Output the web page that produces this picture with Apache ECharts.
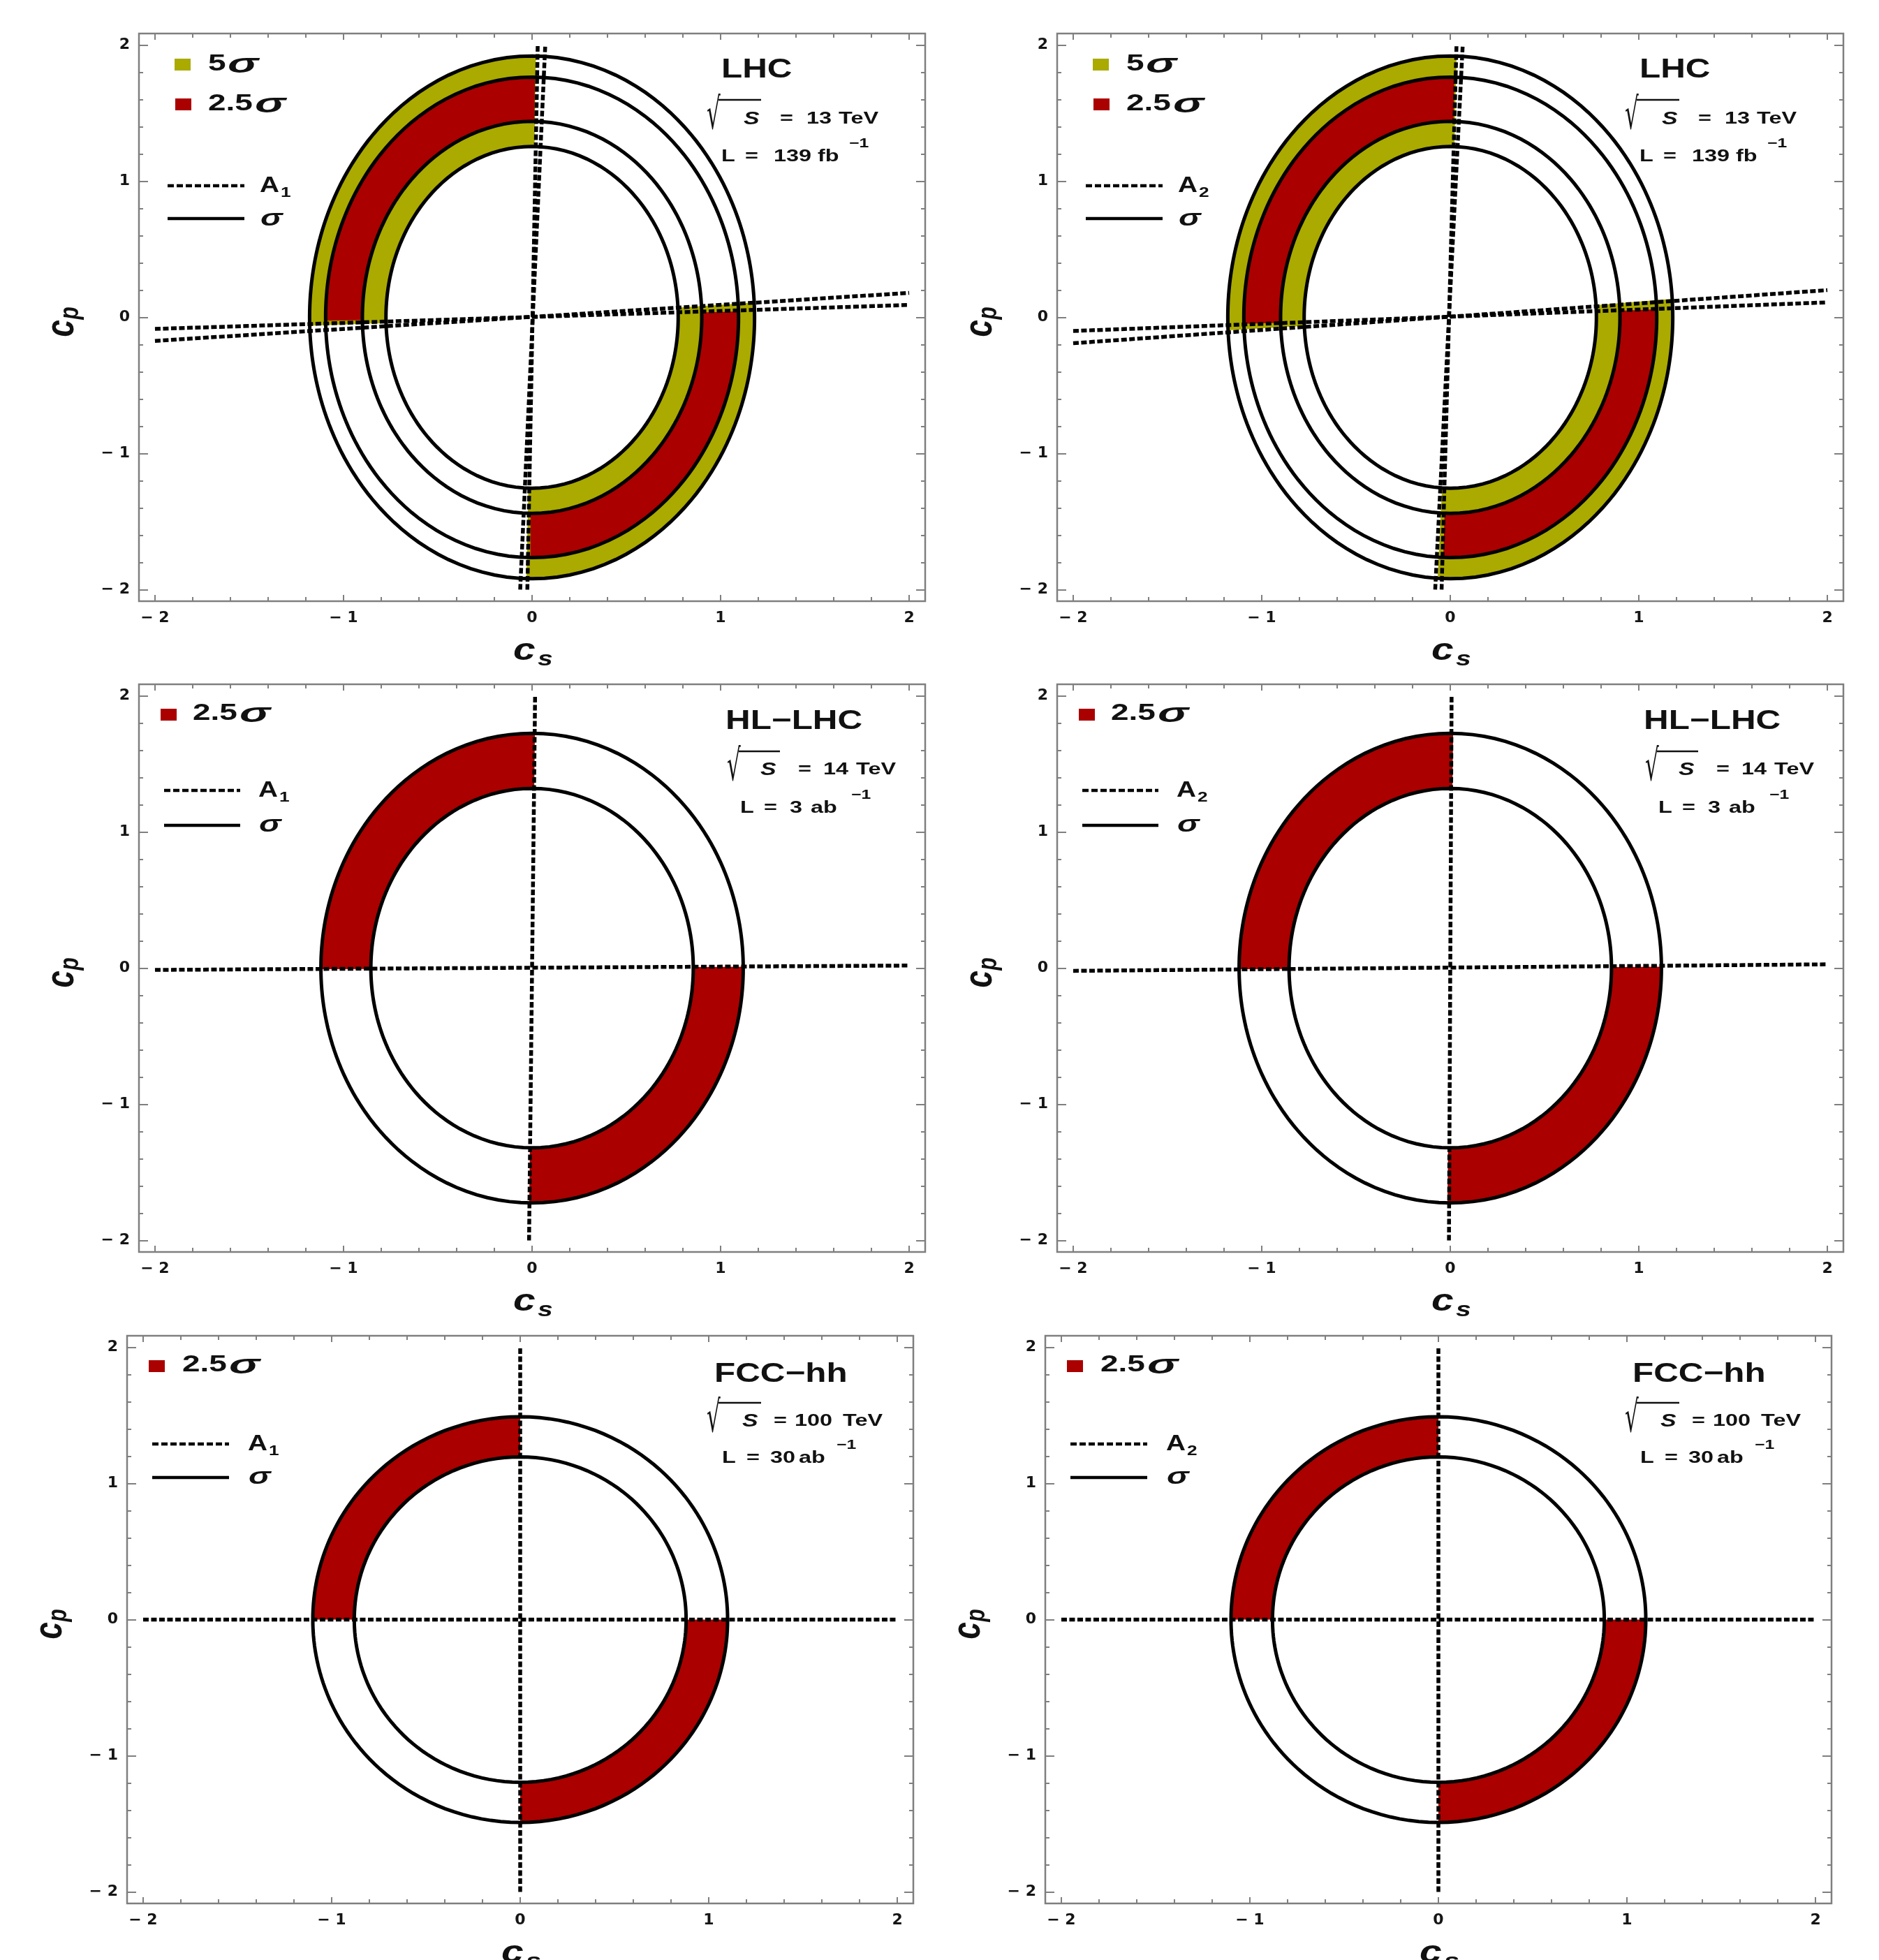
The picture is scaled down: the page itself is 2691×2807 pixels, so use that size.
<!DOCTYPE html>
<html>
<head>
<meta charset="utf-8">
<script src="https://cdn.jsdelivr.net/npm/echarts@6/dist/echarts.min.js"></script>
<style>
  html, body { margin: 0; padding: 0; background: #fff; }
  #chart { width: 2691px; height: 2807px; }
</style>
</head>
<body>
<div id="chart"></div>
<script>
// ---- tick values ----
const majorTicks = [-2, -1, 0, 1, 2];
const minorTicks = [-1.8, -1.6, -1.4, -1.2, -0.8, -0.6, -0.4, -0.2, 0.2, 0.4, 0.6, 0.8, 1.2, 1.4, 1.6, 1.8];

// ---- sigma contours: semi-axes [c_s, c_p] ----
const lhcRings = [[1.18, 1.92], [1.095, 1.765], [0.90, 1.44], [0.775, 1.255]];
const hlRings = [[1.12, 1.725], [0.855, 1.32]];
const fccRings = [[1.10, 1.49], [0.88, 1.195]];

// ---- A1 / A2 lines: [[c_s, c_p], [c_s, c_p]] ----
const lhcA1Lines = [[[-0.063, -2], [0.07, 2]], [[-0.025, -2], [0.03, 2]], [[-2, -0.173], [2, 0.18]], [[-2, -0.085], [2, 0.091]]];
const lhcA2Lines = [[[-0.08, -2], [0.066, 2]], [[-0.046, -2], [0.033, 2]], [[-2, -0.19], [2, 0.2]], [[-2, -0.10], [2, 0.11]]];
const hlA1Lines = [[[-0.016, -2], [0.016, 2]], [[-2, -0.013], [2, 0.019]]];
const hlA2Lines = [[[-0.007, -2], [0.007, 2]], [[-2, -0.02], [2, 0.028]]];
const fccA1Lines = [[[0, -2], [0, 2]], [[-2, 0], [2, 0]]];
const fccA2Lines = [[[0, -2], [0, 2]], [[-2, 0], [2, 0]]];

// ---- shaded sectors [from, to] (degrees) ----
const lhcA1Sectors5 = [[89.4, 183.0], [269.1, 365.3]];
const lhcA1Sectors25 = [[89.5, 181.3], [269.7, 362.3]];
const lhcA2Sectors5 = [[89.0, 184.6], [268.0, 366.6]];
const lhcA2Sectors25 = [[89.3, 182.5], [268.8, 363.1]];
const hlSectors = [[89.5, 180.4], [269.5, 360.5]];
const fccSectors = [[90, 180], [270, 360]];

// ---- texts ----
const colliders = ['LHC', 'HL\u2212LHC', 'FCC\u2212hh'];
const energies = ['13', '14', '100'];
const lumis = ['139', '3', '30'];
const lumiUnits = ['fb', 'ab', 'ab'];

const YELLOW = '#aaaa00', RED = '#aa0000', FRAME = '#7f7f7f', INK = '#111';
const SANS = '"Liberation Sans", Arial, sans-serif';
const LIM = 2.085, W = 1126, H = 813;

const panels = [
  { box: [199, 48], row: 0, a: '1', rings: lhcRings, lines: lhcA1Lines,
    bands: [{ name: '5σ', color: YELLOW, outer: 0, inner: 3, sectors: lhcA1Sectors5 },
            { name: '2.5σ', color: RED, outer: 1, inner: 2, sectors: lhcA1Sectors25 }] },
  { box: [1514, 48], row: 0, a: '2', rings: lhcRings, lines: lhcA2Lines,
    bands: [{ name: '5σ', color: YELLOW, outer: 0, inner: 3, sectors: lhcA2Sectors5 },
            { name: '2.5σ', color: RED, outer: 1, inner: 2, sectors: lhcA2Sectors25 }] },
  { box: [199, 980], row: 1, a: '1', rings: hlRings, lines: hlA1Lines,
    bands: [{ name: '2.5σ', color: RED, outer: 0, inner: 1, sectors: hlSectors }] },
  { box: [1514, 980], row: 1, a: '2', rings: hlRings, lines: hlA2Lines,
    bands: [{ name: '2.5σ', color: RED, outer: 0, inner: 1, sectors: hlSectors }] },
  { box: [182, 1913], row: 2, a: '1', rings: fccRings, lines: fccA1Lines,
    bands: [{ name: '2.5σ', color: RED, outer: 0, inner: 1, sectors: fccSectors }] },
  { box: [1497, 1913], row: 2, a: '2', rings: fccRings, lines: fccA2Lines,
    bands: [{ name: '2.5σ', color: RED, outer: 0, inner: 1, sectors: fccSectors }] }
];

// per-row placement of the annotation block and legend (px, relative to frame)
const rowText = [
  { title: [834, 53], rad: [813, 95, 891], S: [866, 123], eq: [918, 122], en: [956, 122], tev: [1002, 122],
    L: [834, 176], Leq: [868, 176], lumi: [909, 176], unit: [972, 176], sup: [1017, 158] },
  { title: [840, 54], rad: [842, 96, 918], S: [890, 123], eq: [944, 122], en: [980, 122], tev: [1027, 122],
    L: [861, 177], Leq: [895, 177], lumi: [932, 177], unit: [962, 177], sup: [1020, 159] },
  { title: [841, 56], rad: [830, 96, 908], S: [881, 123], eq: [926, 122], en: [956, 122], tev: [1025, 122],
    L: [852, 175], Leq: [887, 175], lumi: [921, 175], unit: [962, 175], sup: [1016, 157] }
];
const rowLegend = [
  { sq: [[51, 36], [52, 93]], txt: [[99, 44], [99, 101]], dash: [41, 151, 218], A: [173, 218], solid: [41, 151, 265], sig: [174, 266] },
  { sq: [[31, 35]], txt: [[77, 42]], dash: [36, 145, 152], A: [171, 152], solid: [36, 145, 202], sig: [172, 202] },
  { sq: [[31, 35]], txt: [[79, 42]], dash: [36, 146, 155], A: [173, 155], solid: [36, 146, 203], sig: [174, 203] }
];

function ringPoint(r, deg) {
  const t = deg * Math.PI / 180, c = Math.cos(t), s = Math.sin(t);
  const rho = r[0] * r[1] / Math.sqrt(Math.pow(r[1] * c, 2) + Math.pow(r[0] * s, 2));
  return [rho * c, rho * s];
}

function sectorRender(outer, inner, color) {
  return function (params, api) {
    const a0 = api.value(0), a1 = api.value(1);
    const pts = [];
    for (let k = 0; k <= 90; k++) pts.push(api.coord(ringPoint(outer, a0 + (a1 - a0) * k / 90)));
    for (let k = 90; k >= 0; k--) pts.push(api.coord(ringPoint(inner, a0 + (a1 - a0) * k / 90)));
    return { type: 'polygon', shape: { points: pts }, style: { fill: color, stroke: null } };
  };
}

function ringRender(params, api) {
  const r = [api.value(0), api.value(1)];
  const pts = [];
  for (let k = 0; k <= 360; k += 2) pts.push(api.coord(ringPoint(r, k)));
  return { type: 'polyline', shape: { points: pts }, style: { stroke: '#000', lineWidth: 5, fill: null } };
}

function tickText(v) {
  return v < 0 ? '\u2212 ' + (-v) : String(v);
}

function tickAxis(gridIndex, position, values, len, withLabels) {
  return {
    type: 'value', gridIndex: gridIndex, position: position, min: -LIM, max: LIM,
    axisLine: { show: false, onZero: false },
    axisTick: { show: true, inside: true, length: len, customValues: values, lineStyle: { color: FRAME, width: 2 } },
    minorTick: { show: false },
    splitLine: { show: false },
    axisLabel: withLabels ? {
      show: true, customValues: majorTicks, formatter: tickText, margin: 13,
      color: '#151515', fontFamily: '"DejaVu Sans"', fontWeight: 'bold', fontSize: 22
    } : { show: false }
  };
}

function text(x, y, s, size, o) {
  o = o || {};
  const font = (o.italic ? 'italic ' : '') + (o.weight || 'bold') + ' ' + size + 'px ' + (o.family || SANS);
  return {
    type: 'text', x: x, y: y, scaleX: o.sx == null ? 1.35 : o.sx, scaleY: o.sy == null ? 1 : o.sy, z: 20, silent: true,
    style: { text: s, fill: INK, font: font, align: o.align || 'left', verticalAlign: o.va || 'middle',
             textAlign: o.align || 'left', textVerticalAlign: o.va || 'middle' }
  };
}

const grids = [], xAxes = [], yAxes = [], series = [], graphics = [];

panels.forEach(function (p, i) {
  const gx = p.box[0], gy = p.box[1];
  grids.push({ left: gx, top: gy, width: W, height: H, show: true, borderColor: FRAME, borderWidth: 2.5, backgroundColor: 'transparent' });
  const xi = xAxes.length, yi = yAxes.length;
  xAxes.push(tickAxis(i, 'bottom', majorTicks, 9, true));
  xAxes.push(tickAxis(i, 'bottom', minorTicks, 6, false));
  xAxes.push(tickAxis(i, 'top', majorTicks, 9, false));
  xAxes.push(tickAxis(i, 'top', minorTicks, 6, false));
  yAxes.push(tickAxis(i, 'left', majorTicks, 13, true));
  yAxes.push(tickAxis(i, 'left', minorTicks, 6, false));
  yAxes.push(tickAxis(i, 'right', majorTicks, 13, false));
  yAxes.push(tickAxis(i, 'right', minorTicks, 6, false));

  p.bands.forEach(function (b) {
    series.push({
      type: 'custom', name: b.name, xAxisIndex: xi, yAxisIndex: yi, z: 1, silent: true,
      data: b.sectors, renderItem: sectorRender(p.rings[b.outer], p.rings[b.inner], b.color)
    });
  });
  series.push({ type: 'custom', name: 'σ', xAxisIndex: xi, yAxisIndex: yi, z: 2, silent: true, data: p.rings, renderItem: ringRender });
  p.lines.forEach(function (l) {
    series.push({
      type: 'line', name: 'A' + p.a, xAxisIndex: xi, yAxisIndex: yi, z: 3, silent: true,
      showSymbol: false, data: l, lineStyle: { color: '#000', width: 5.5, type: [8, 3.5] }
    });
  });

  // collider annotation
  const t = rowText[p.row];
  graphics.push(text(gx + t.title[0], gy + t.title[1], colliders[p.row], 38, { sx: 1.3 }));
  graphics.push(text(gx + t.rad[0], gy + t.rad[1] - 6, '\u221a', 62, { weight: 'normal', family: '"DejaVu Sans"', va: 'top', sx: 0.5 }));
  graphics.push({ type: 'line', z: 20, silent: true, shape: { x1: gx + t.rad[0] + 17, y1: gy + t.rad[1], x2: gx + t.rad[2], y2: gy + t.rad[1] }, style: { stroke: INK, lineWidth: 2.5 } });
  graphics.push(text(gx + t.S[0], gy + t.S[1], 'S', 26, { italic: true, sx: 1.3 }));
  graphics.push(text(gx + t.eq[0], gy + t.eq[1], '=', 24));
  graphics.push(text(gx + t.en[0], gy + t.en[1], energies[p.row], 24));
  graphics.push(text(gx + t.tev[0], gy + t.tev[1], 'TeV', 24));
  graphics.push(text(gx + t.L[0], gy + t.L[1], 'L', 24));
  graphics.push(text(gx + t.Leq[0], gy + t.Leq[1], '=', 24));
  graphics.push(text(gx + t.lumi[0], gy + t.lumi[1], lumis[p.row], 24));
  graphics.push(text(gx + t.unit[0], gy + t.unit[1], lumiUnits[p.row], 24));
  graphics.push(text(gx + t.sup[0], gy + t.sup[1], '\u22121', 19, { sx: 1.3 }));

  // legend
  const lg = rowLegend[p.row];
  p.bands.forEach(function (b, k) {
    graphics.push({ type: 'rect', z: 20, silent: true, shape: { x: gx + lg.sq[k][0], y: gy + lg.sq[k][1], width: 23, height: 17 }, style: { fill: b.color } });
    const num = b.name.replace('σ', '');
    const numW = num === '5' ? 26 : 65;
    graphics.push(text(gx + lg.txt[k][0], gy + lg.txt[k][1], num, 34, { sx: 1.35 }));
    graphics.push(text(gx + lg.txt[k][0] + numW + 2, gy + lg.txt[k][1] + 2, 'σ', 38, { italic: true, sx: 1.75 }));
  });
  graphics.push({ type: 'line', z: 20, silent: true, shape: { x1: gx + lg.dash[0], y1: gy + lg.dash[2], x2: gx + lg.dash[1], y2: gy + lg.dash[2] }, style: { stroke: '#000', lineWidth: 4.5, lineDash: [9, 4] } });
  graphics.push({ type: 'line', z: 20, silent: true, shape: { x1: gx + lg.solid[0], y1: gy + lg.solid[2], x2: gx + lg.solid[1], y2: gy + lg.solid[2] }, style: { stroke: '#000', lineWidth: 4.5 } });
  graphics.push(text(gx + lg.A[0], gy + lg.A[1], 'A', 31, { sx: 1.25 }));
  graphics.push(text(gx + lg.A[0] + 30, gy + lg.A[1] + 10, p.a, 21, { sx: 1.25 }));
  graphics.push(text(gx + lg.sig[0], gy + lg.sig[1], 'σ', 34, { italic: true, sx: 1.4 }));

  // axis names
  const cx = gx + W / 2;
  graphics.push(text(cx - 27, gy + H + 72, 'c', 44, { italic: true, sx: 1.3 }));
  graphics.push(text(cx + 8, gy + H + 84, 's', 30, { italic: true, sx: 1.3 }));
  graphics.push({
    type: 'group', x: gx - 110, y: gy + H / 2 + 28, rotation: Math.PI / 2, z: 20, silent: true,
    children: [
      text(0, 0, 'c', 44, { italic: true, sx: 1, sy: 1.3 }),
      text(25, 12, 'p', 30, { italic: true, sx: 1, sy: 1.3 })
    ]
  });
});

const chart = echarts.init(document.getElementById('chart'), null, { renderer: 'canvas' });
chart.setOption({
  backgroundColor: '#fff',
  animation: false,
  grid: grids,
  xAxis: xAxes,
  yAxis: yAxes,
  series: series,
  graphic: { elements: graphics }
});
</script>
</body>
</html>
